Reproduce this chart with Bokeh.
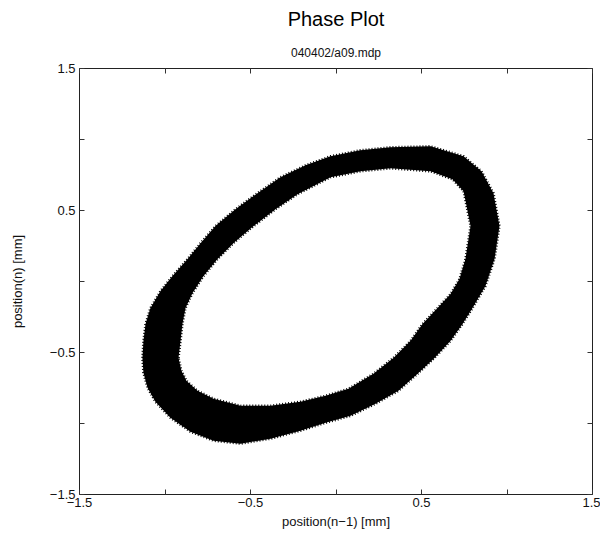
from bokeh.plotting import figure
from bokeh.models import Range1d, FixedTicker, LinearAxis, Title
from bokeh.embed import file_html
from bokeh.resources import INLINE

# Outer edge of the point cloud, position(n-1) vs position(n) in mm
outer_x = [-1.132, -1.126, -1.114, -1.085, -1.026, -0.956, -0.868, -0.792, -0.705, -0.588,
           -0.459, -0.325, -0.178, -0.032, 0.143, 0.319, 0.553, 0.746, 0.851, 0.921,
           0.956, 0.927, 0.874, 0.798, 0.740, 0.670, 0.576, 0.477, 0.365, 0.231,
           0.085, -0.061, -0.208, -0.383, -0.558, -0.716, -0.851, -0.968, -1.056, -1.102,
           -1.126]
outer_y = [-0.538, -0.418, -0.299, -0.187, -0.067, 0.038, 0.158, 0.270, 0.390, 0.509,
           0.622, 0.734, 0.818, 0.882, 0.924, 0.945, 0.952, 0.882, 0.776, 0.622,
           0.390, 0.158, -0.032, -0.187, -0.299, -0.418, -0.538, -0.650, -0.770, -0.861,
           -0.946, -0.995, -1.051, -1.107, -1.142, -1.121, -1.058, -0.960, -0.847, -0.749,
           -0.643]

# Inner edge of the point cloud
inner_x = [-0.921, -0.909, -0.898, -0.880, -0.839, -0.775, -0.693, -0.594, -0.482, -0.354,
           -0.225, -0.032, 0.143, 0.319, 0.553, 0.681, 0.746, 0.787, 0.757, 0.722,
           0.670, 0.594, 0.506, 0.436, 0.336, 0.219, 0.073, -0.061, -0.208, -0.383,
           -0.558, -0.716, -0.810, -0.874, -0.904]
inner_y = [-0.538, -0.418, -0.299, -0.187, -0.081, 0.038, 0.158, 0.277, 0.390, 0.509,
           0.615, 0.734, 0.776, 0.797, 0.776, 0.720, 0.636, 0.390, 0.158, 0.017,
           -0.088, -0.187, -0.299, -0.418, -0.538, -0.650, -0.756, -0.805, -0.847, -0.875,
           -0.875, -0.826, -0.770, -0.700, -0.629]

tick_values = [-1.5, -1, -0.5, 0, 0.5, 1, 1.5]
tick_labels = {-1.5: "\u22121.5", -1: "", -0.5: "\u22120.5", 0: "", 0.5: "0.5", 1: "", 1.5: "1.5"}
blank_labels = {-1.5: "", -1: "", -0.5: "", 0: "", 0.5: "", 1: "", 1.5: ""}

FONT = "Liberation Sans"

p = figure(width=600, height=539, output_backend="svg", toolbar_location=None,
           x_range=Range1d(-1.5, 1.5), y_range=Range1d(-1.5, 1.5),
           min_border_left=79, min_border_right=8, min_border_top=67, min_border_bottom=45,
           background_fill_color="white", border_fill_color="white")
p.title = None
p.grid.visible = False
p.outline_line_color = "#222222"
p.outline_line_width = 1

def style_axis(ax, labels):
    ax.ticker = FixedTicker(ticks=tick_values)
    ax.major_label_overrides = labels
    ax.axis_line_color = None
    ax.major_tick_in = 5
    ax.major_tick_out = 0
    ax.major_tick_line_color = "#333333"
    ax.minor_tick_line_color = None
    ax.major_label_text_font = FONT
    ax.major_label_text_font_size = "13px"
    ax.major_label_text_color = "#111111"
    ax.axis_label_text_font = FONT
    ax.axis_label_text_font_size = "13px"
    ax.axis_label_text_font_style = "normal"
    ax.axis_label_text_color = "#111111"

style_axis(p.xaxis[0], tick_labels)
style_axis(p.yaxis[0], tick_labels)
p.xaxis[0].axis_label = "position(n\u22121) [mm]"
p.yaxis[0].axis_label = "position(n) [mm]"
p.xaxis[0].major_label_standoff = 3
p.xaxis[0].axis_label_standoff = 4
p.yaxis[0].major_label_standoff = 4
p.yaxis[0].axis_label_standoff = 22

top_axis = LinearAxis()
style_axis(top_axis, blank_labels)
top_axis.major_label_text_font_size = "0px"
right_axis = LinearAxis()
style_axis(right_axis, blank_labels)
right_axis.major_label_text_font_size = "0px"
p.add_layout(top_axis, "above")
p.add_layout(right_axis, "right")

p.add_layout(Title(text="040402/a09.mdp", align="center", text_font=FONT,
                   text_font_size="12px", text_font_style="normal",
                   text_color="#111111", standoff=18), "above")
p.add_layout(Title(text="Phase Plot", align="center", text_font=FONT,
                   text_font_size="20px", text_font_style="normal",
                   text_color="#000000"), "above")

# the ring of points, drawn as the band between its outer and inner edges;
# a fine dotted stroke roughens the edges like scattered samples
p.multi_polygons(xs=[[[outer_x, inner_x]]], ys=[[[outer_y, inner_y]]],
                 fill_color="black", line_color="black", line_width=2.5,
                 line_dash="1 2", line_join="round")

open("out.html", "w").write(file_html(p, INLINE))
